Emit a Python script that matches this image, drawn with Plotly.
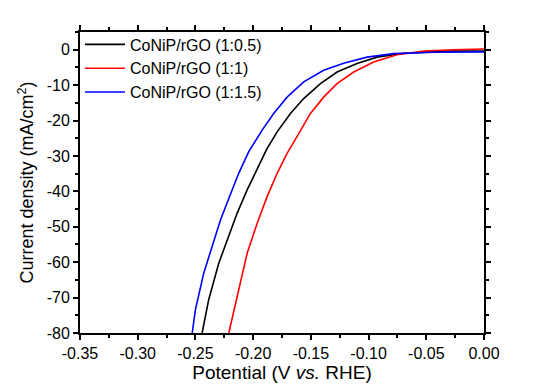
import plotly.graph_objects as go

# Data (Potential in V vs RHE, current density in mA/cm2)
blue_x = [-0.2528, -0.2500, -0.2428, -0.2355, -0.2283, -0.2211, -0.2125, -0.2038, -0.1922,
          -0.1822, -0.1706, -0.1562, -0.1389, -0.1216, -0.1013, -0.0783, -0.0436, 0.0]
blue_y = [-80.0, -73.4, -63.1, -55.6, -48.1, -42.0, -34.9, -28.8, -22.7,
          -18.0, -13.4, -9.1, -5.8, -3.8, -2.1, -1.1, -0.7, -0.6]

black_x = [-0.2442, -0.2385, -0.2298, -0.2225, -0.2139, -0.2052, -0.1965, -0.1879, -0.1792,
           -0.1677, -0.1562, -0.1417, -0.1273, -0.1100, -0.0926, -0.0696, -0.0292, 0.0]
black_y = [-80.0, -70.6, -60.3, -53.7, -46.2, -39.6, -33.5, -27.9, -23.2,
           -18.0, -13.8, -9.6, -6.3, -3.9, -2.1, -1.0, -0.4, -0.4]

red_x = [-0.2211, -0.2139, -0.2052, -0.1965, -0.1879, -0.1792, -0.1706, -0.1605, -0.1504,
         -0.1389, -0.1273, -0.1129, -0.0956, -0.0754, -0.0523, -0.0263, 0.0]
red_y = [-80.0, -69.7, -57.5, -49.0, -41.5, -34.9, -29.3, -23.7, -18.0,
         -13.4, -9.6, -6.3, -3.5, -1.4, -0.4, 0.0, 0.2]

names = ["CoNiP/rGO (1:0.5)", "CoNiP/rGO (1:1)", "CoNiP/rGO (1:1.5)"]
x_ticks = [-0.35, -0.30, -0.25, -0.20, -0.15, -0.10, -0.05, 0.00]
x_tick_labels = ["-0.35", "-0.30", "-0.25", "-0.20", "-0.15", "-0.10", "-0.05", "0.00"]
y_ticks = [0, -10, -20, -30, -40, -50, -60, -70, -80]
y_tick_labels = ["0", "-10", "-20", "-30", "-40", "-50", "-60", "-70", "-80"]

FONT = "Liberation Sans, Arial, sans-serif"

fig = go.Figure()
fig.add_trace(go.Scatter(x=black_x, y=black_y, mode="lines", name=names[0],
                         line=dict(color="#000000", width=1.6)))
fig.add_trace(go.Scatter(x=red_x, y=red_y, mode="lines", name=names[1],
                         line=dict(color="#ff0000", width=1.6)))
fig.add_trace(go.Scatter(x=blue_x, y=blue_y, mode="lines", name=names[2],
                         line=dict(color="#0000ff", width=1.6)))

axis_common = dict(
    showline=True, linecolor="black", linewidth=2, mirror="ticks",
    ticks="outside", ticklen=5, tickwidth=1.5, tickcolor="black",
    showgrid=False, zeroline=False,
    tickfont=dict(family=FONT, size=16, color="black"),
)

fig.update_xaxes(
    range=[-0.35, 0.0], tickvals=x_ticks, ticktext=x_tick_labels,
    title=dict(text="Potential (V <i>vs.</i> RHE)", font=dict(family=FONT, size=19, color="black"), standoff=4),
    minor=dict(ticks="outside", ticklen=3, tickwidth=1.5, tickcolor="black", dtick=0.025, showgrid=False),
    **axis_common,
)
fig.update_yaxes(
    range=[-80, 5], tickvals=y_ticks, ticktext=y_tick_labels,
    title=dict(text="Current density (mA/cm<sup>2</sup>)", font=dict(family=FONT, size=18, color="black"), standoff=8),
    minor=dict(ticks="outside", ticklen=3, tickwidth=1.5, tickcolor="black", dtick=5, showgrid=False),
    **axis_common,
)

fig.update_layout(
    width=539, height=391,
    margin=dict(l=72, r=63, t=24, b=66),
    paper_bgcolor="white", plot_bgcolor="white",
    showlegend=True,
    legend=dict(x=0.0, y=1.015, xanchor="left", yanchor="top",
                bgcolor="rgba(0,0,0,0)", borderwidth=0,
                font=dict(family=FONT, size=16, color="black"),
                tracegroupgap=0, itemwidth=40),
)

fig.write_html("out.html")
